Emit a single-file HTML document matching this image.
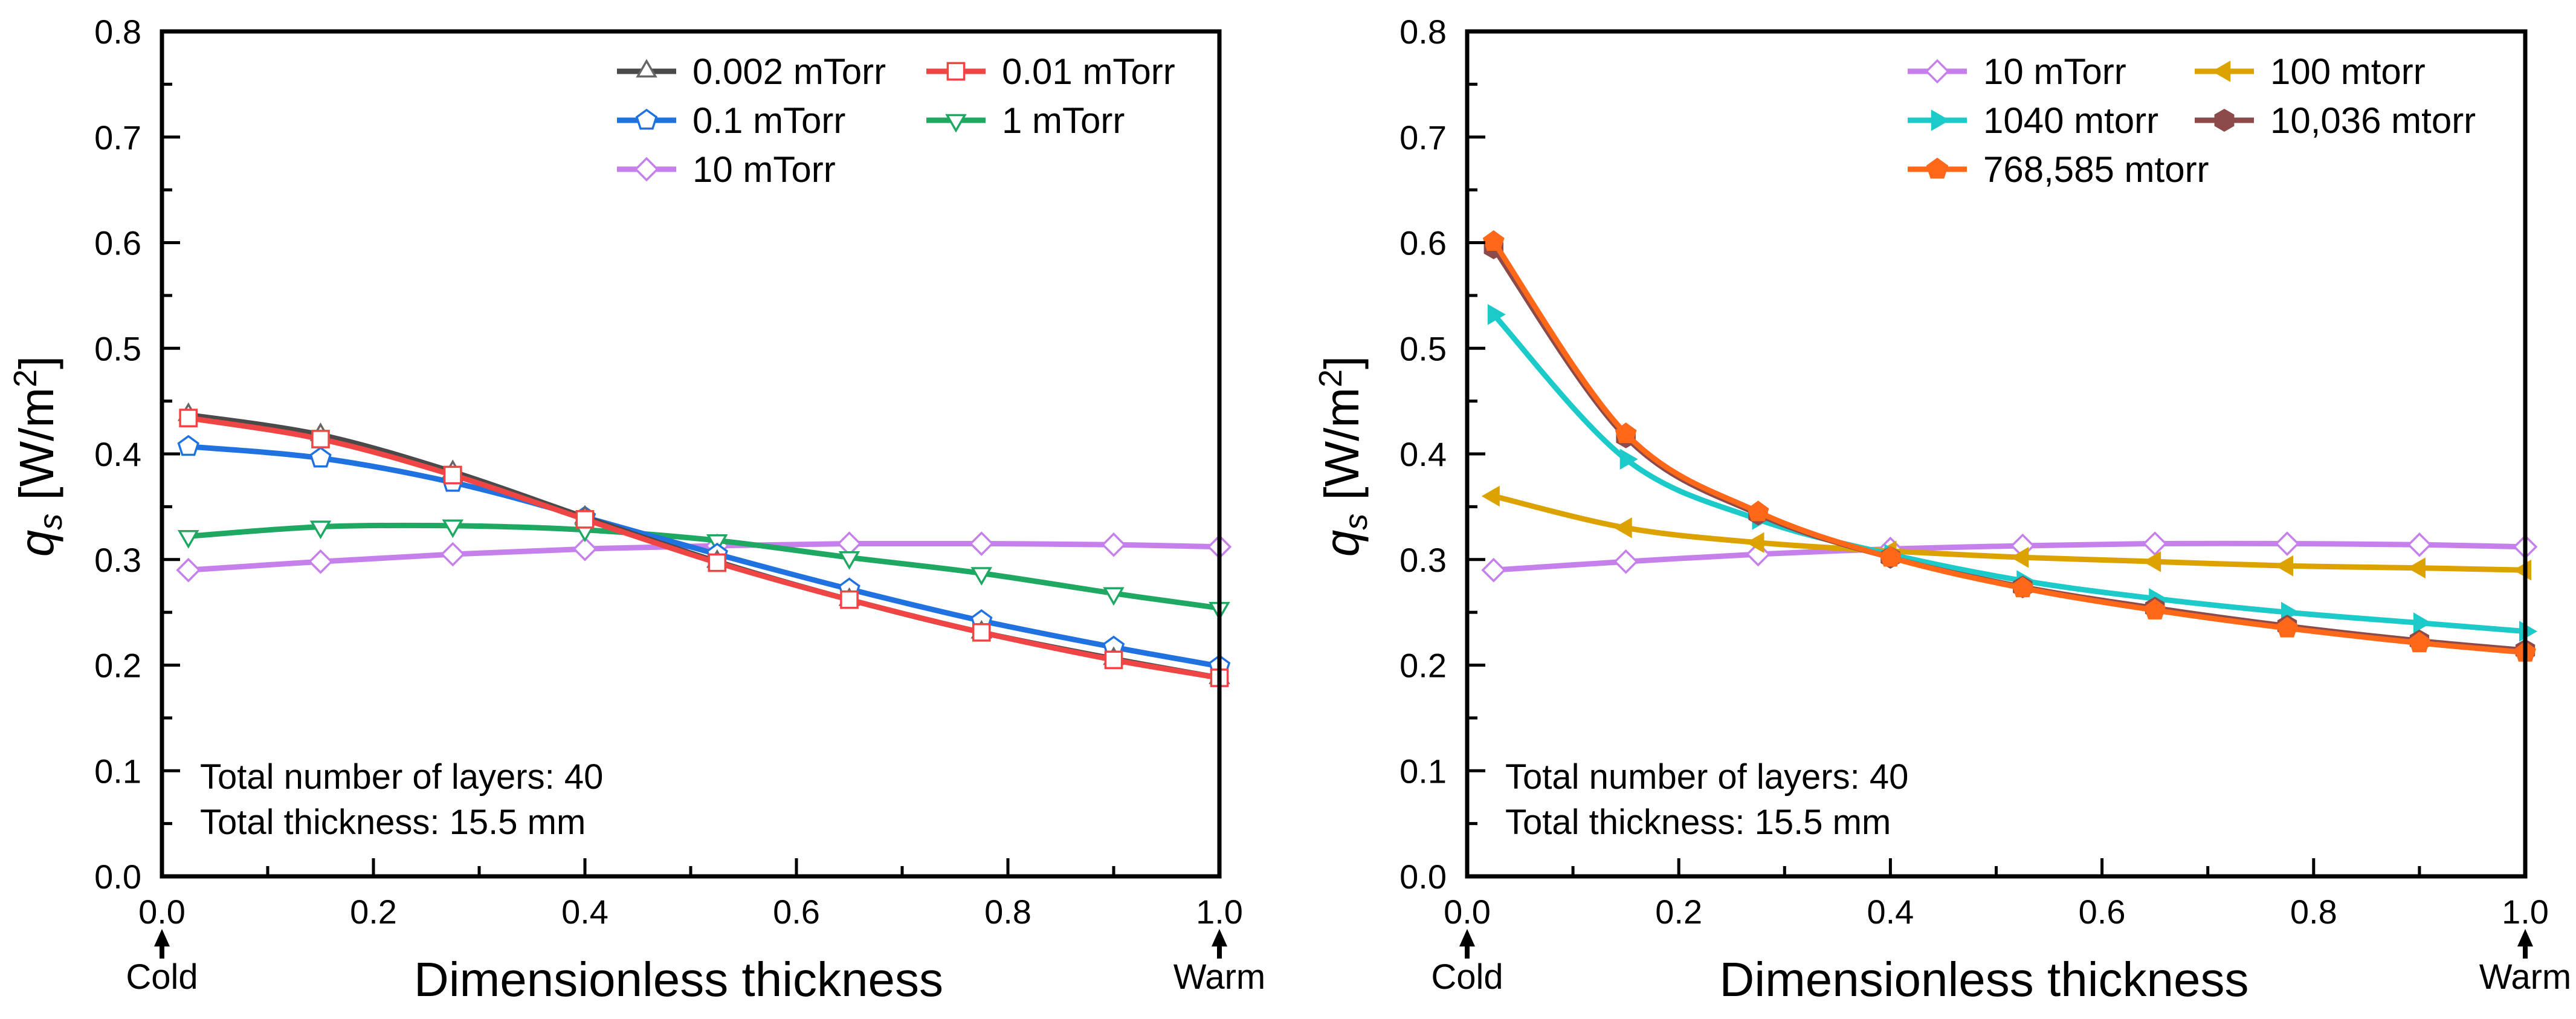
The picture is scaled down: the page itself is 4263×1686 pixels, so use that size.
<!DOCTYPE html>
<html><head><meta charset="utf-8"><style>
html,body{margin:0;padding:0;background:#fff;}
svg{display:block;font-family:"Liberation Sans",Arial,sans-serif;}
</style></head><body>
<svg id="fig" width="4263" height="1686" viewBox="0 0 4263 1686" xmlns="http://www.w3.org/2000/svg"></svg>
<script>
const xValues = [0.025,0.15,0.275,0.4,0.525,0.65,0.775,0.9,1.0];
const xTicks = ["0.0","0.2","0.4","0.6","0.8","1.0"];
const yTicks = ["0.0","0.1","0.2","0.3","0.4","0.5","0.6","0.7","0.8"];
const s0002 = [0.437,0.418,0.383,0.340,0.298,0.262,0.231,0.206,0.188];
const s001 = [0.434,0.414,0.380,0.338,0.297,0.262,0.231,0.205,0.188];
const s01 = [0.407,0.396,0.373,0.340,0.305,0.272,0.242,0.217,0.199];
const s1 = [0.322,0.331,0.332,0.328,0.318,0.302,0.287,0.268,0.254];
const s10 = [0.290,0.298,0.305,0.310,0.313,0.315,0.315,0.314,0.312];
const s100 = [0.360,0.330,0.316,0.308,0.302,0.298,0.294,0.292,0.290];
const s1040 = [0.532,0.395,0.338,0.305,0.280,0.263,0.250,0.240,0.232];
const s10036 = [0.595,0.416,0.343,0.302,0.274,0.254,0.237,0.223,0.214];
const s768585 = [0.601,0.419,0.345,0.302,0.273,0.252,0.235,0.221,0.212];

const NS="http://www.w3.org/2000/svg";
const svg=document.getElementById('fig');
function mk(tag,attrs,parent){const e=document.createElementNS(NS,tag);for(const k in attrs)e.setAttribute(k,attrs[k]);(parent||svg).appendChild(e);return e;}

function markerPath(shape,cx,cy,r){
  const pts=[];
  function poly(n,rot){for(let i=0;i<n;i++){const a=rot+i*2*Math.PI/n;pts.push([cx+r*Math.cos(a),cy+r*Math.sin(a)]);}}
  if(shape==='tri')poly(3,-Math.PI/2);
  else if(shape==='tridown')poly(3,Math.PI/2);
  else if(shape==='square'){const q=r*0.8;pts.push([cx-q,cy-q],[cx+q,cy-q],[cx+q,cy+q],[cx-q,cy+q]);}
  else if(shape==='pent')poly(5,-Math.PI/2);
  else if(shape==='diamond'){pts.push([cx,cy-r*1.05],[cx+r*1.05,cy],[cx,cy+r*1.05],[cx-r*1.05,cy]);}
  else if(shape==='left')poly(3,Math.PI);
  else if(shape==='right')poly(3,0);
  else if(shape==='hex')poly(6,-Math.PI/2);
  return 'M'+pts.map(p=>p[0].toFixed(1)+','+p[1].toFixed(1)).join('L')+'Z';
}

function smoothPath(P){
  let d='M'+P[0][0]+','+P[0][1];
  for(let i=0;i<P.length-1;i++){
    const p0=P[i-1]||P[i],p1=P[i],p2=P[i+1],p3=P[i+2]||p2;
    const c1=[p1[0]+(p2[0]-p0[0])/6,p1[1]+(p2[1]-p0[1])/6];
    const c2=[p2[0]-(p3[0]-p1[0])/6,p2[1]-(p3[1]-p1[1])/6];
    d+='C'+c1[0].toFixed(1)+','+c1[1].toFixed(1)+' '+c2[0].toFixed(1)+','+c2[1].toFixed(1)+' '+p2[0].toFixed(1)+','+p2[1].toFixed(1);
  }
  return d;
}

function panel(id,L,R,T,B,series,legend){
  const g=mk('g',{});
  
  
  const xs=v=>L+v*(R-L), ys=v=>B-(v/0.8)*(B-T);
  series.forEach(s=>{
    const sg=mk('g',{},g);
    
    
    const P=s.data.map((v,i)=>[xs(xValues[i]),ys(v)]);
    const ln=mk('path',{d:smoothPath(P),fill:'none',stroke:s.color,'stroke-width':9,'stroke-linejoin':'round'},sg);
    
    
    P.forEach((p,i)=>{
      const m=mk('path',{d:markerPath(s.shape,p[0],p[1],17),fill:s.filled?s.mcolor:'#fff',stroke:s.mcolor,'stroke-width':s.filled?3:3.5},sg);
      
      
    });
  });
  const fr=mk('rect',{x:L,y:T,width:R-L,height:B-T,fill:'none',stroke:'#000','stroke-width':7},g);
  
  
  for(let i=1;i<10;i++){const x=xs(i/10);const len=i%2===0?30:17;mk('line',{x1:x,y1:B,x2:x,y2:B-len,stroke:'#000','stroke-width':5},g);}
  for(let i=1;i<16;i++){const y=B-(i/16)*(B-T);const len=i%2===0?30:17;mk('line',{x1:L,y1:y,x2:L+len,y2:y,stroke:'#000','stroke-width':5},g);}
  xTicks.forEach((t,i)=>{const tx=mk('text',{x:xs(i*0.2),y:1528,'font-size':56,'text-anchor':'middle'},g);tx.textContent=t;
    
    });
  yTicks.forEach((t,i)=>{const tx=mk('text',{x:L-34,y:ys(i*0.1)+20,'font-size':56,'text-anchor':'end'},g);tx.textContent=t;
    
    });
  [[L,'Cold'],[R,'Warm']].forEach(a=>{
    mk('path',{d:`M${a[0]-13},1566L${a[0]},1537L${a[0]+13},1566Z`,fill:'#000'},g);
    mk('line',{x1:a[0],y1:1560,x2:a[0],y2:1586,stroke:'#000','stroke-width':8},g);
    const tx=mk('text',{x:a[0],y:1636,'font-size':58,'text-anchor':'middle'},g);tx.textContent=a[1];
    
    
  });
  const xt=mk('text',{x:(L+R)/2-20,y:1648,'font-size':80,'text-anchor':'middle'},g);xt.textContent='Dimensionless thickness';
  
  
  const yt=mk('text',{x:0,y:0,'font-size':80,'text-anchor':'middle',transform:`translate(${L-180},755) rotate(-90)`},g);
  yt.innerHTML='<tspan font-style="italic">q</tspan><tspan font-style="italic" font-size="54" dy="14">s</tspan><tspan dy="-14"> [W/m</tspan><tspan font-size="54" dy="-28">2</tspan><tspan dy="28">]</tspan>';
  
  
  [['Total number of layers: 40',1305],['Total thickness: 15.5 mm',1380]].forEach(n=>{
    const tx=mk('text',{x:L+63,y:n[1],'font-size':58},g);tx.textContent=n[0];
    
    
  });
  legend.forEach(le=>{
    const s=series.find(q=>q.key===le.key);
    const lg=mk('g',{},g);
    
    
    mk('line',{x1:le.x,y1:le.y,x2:le.x+98,y2:le.y,stroke:s.color,'stroke-width':9},lg);
    mk('path',{d:markerPath(s.shape,le.x+49,le.y,17),fill:s.filled?s.mcolor:'#fff',stroke:s.mcolor,'stroke-width':3.5},lg);
    const tx=mk('text',{x:le.x+125,y:le.y+21,'font-size':60},lg);tx.textContent=s.label;
  });
}

const purple={key:'10mtorr',label:'10 mTorr',data:s10,color:'#c580ec',mcolor:'#c580ec',shape:'diamond'};
panel('left-chart',268,2018,52,1450,[
  purple,
  {key:'1mtorr',label:'1 mTorr',data:s1,color:'#1ea862',mcolor:'#1ea862',shape:'tridown'},
  {key:'0.1mtorr',label:'0.1 mTorr',data:s01,color:'#1f72e0',mcolor:'#1f72e0',shape:'pent'},
  {key:'0.002mtorr',label:'0.002 mTorr',data:s0002,color:'#4a4a4a',mcolor:'#666',shape:'tri'},
  {key:'0.01mtorr',label:'0.01 mTorr',data:s001,color:'#f04545',mcolor:'#f04545',shape:'square'}
],[
  {key:'0.002mtorr',x:1021,y:118},{key:'0.01mtorr',x:1533,y:118},
  {key:'0.1mtorr',x:1021,y:199},{key:'1mtorr',x:1533,y:199},
  {key:'10mtorr',x:1021,y:280}
]);
panel('right-chart',2428,4179,52,1450,[
  purple,
  {key:'100mtorr',label:'100 mtorr',data:s100,color:'#dba200',mcolor:'#dba200',shape:'left',filled:true},
  {key:'1040mtorr',label:'1040 mtorr',data:s1040,color:'#1ccaca',mcolor:'#1ccaca',shape:'right',filled:true},
  {key:'10036mtorr',label:'10,036 mtorr',data:s10036,color:'#8c4a4a',mcolor:'#8c4a4a',shape:'hex',filled:true},
  {key:'768585mtorr',label:'768,585 mtorr',data:s768585,color:'#ff6818',mcolor:'#ff6818',shape:'pent',filled:true}
],[
  {key:'10mtorr',x:3157,y:118},{key:'100mtorr',x:3632,y:118},
  {key:'1040mtorr',x:3157,y:199},{key:'10036mtorr',x:3632,y:199},
  {key:'768585mtorr',x:3157,y:280}
]);
</script>
</body></html>
